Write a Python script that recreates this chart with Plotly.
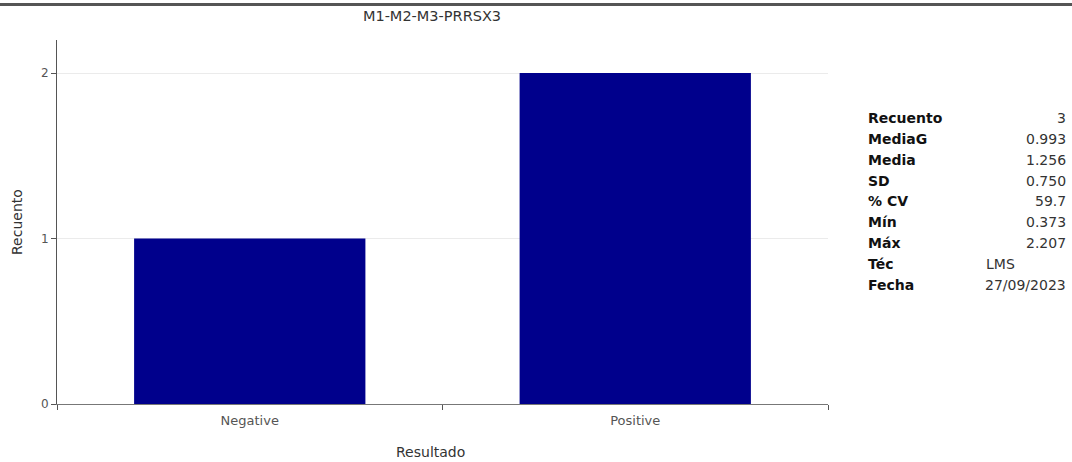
import plotly.graph_objects as go

title = "M1-M2-M3-PRRSX3"
x_title = "Resultado"
y_title = "Recuento"
categories = ["Negative", "Positive"]
counts = [1, 2]
y_ticks = [0, 1, 2]

stat_labels = ["Recuento", "MediaG", "Media", "SD", "% CV", "Mín", "Máx", "Téc", "Fecha"]
stat_values = ["3", "0.993", "1.256", "0.750", "59.7", "0.373", "2.207", "LMS", "27/09/2023"]

FONT = "DejaVu Sans"
W, H = 1072, 462
L, R, T, B = 57, 244, 40, 58
pw, ph = W - L - R, H - T - B

def px_x(x):
    return (x - L) / pw

def px_y(y):
    return (H - B - y) / ph

fig = go.Figure()
fig.add_trace(go.Bar(
    x=categories, y=counts, width=0.6,
    marker=dict(color="#00008C", line=dict(width=0)),
    hoverinfo="skip",
))

fig.update_layout(
    width=W, height=H,
    margin=dict(l=L, r=R, t=T, b=B),
    paper_bgcolor="white", plot_bgcolor="white",
    showlegend=False,
    font=dict(family=FONT, color="#444", size=12),
    title=dict(text=title, x=px_x(432), xref="paper", xanchor="center",
               y=1 - 16 / H, yanchor="middle", yref="container",
               font=dict(family=FONT, size=14.5, color="#333")),
)
fig.update_xaxes(
    type="category", range=[-0.5, 1.5], automargin=False,
    showline=True, linecolor="#777", linewidth=1,
    ticks="outside", ticklen=5, tickcolor="#555", tickson="boundaries",
    showgrid=False,
    ticklabelstandoff=4,
    tickfont=dict(family=FONT, size=13, color="#555"),
)
fig.update_yaxes(
    range=[0, 2.2], tickvals=y_ticks, automargin=False,
    showline=True, linecolor="#555", linewidth=1,
    ticks="outside", ticklen=5, tickcolor="#555",
    showgrid=True, gridcolor="#EBEBEB", gridwidth=1,
    zeroline=False,
    tickfont=dict(family=FONT, size=12, color="#555"),
)

# axis titles
fig.add_annotation(text=x_title, x=px_x(430), y=px_y(452), xref="paper", yref="paper",
                   xanchor="center", yanchor="middle", showarrow=False,
                   font=dict(family=FONT, size=14, color="#333"))
fig.add_annotation(text=y_title, x=px_x(17), y=px_y(222), xref="paper", yref="paper",
                   xanchor="center", yanchor="middle", showarrow=False, textangle=-90,
                   font=dict(family=FONT, size=14, color="#333"))

# top border line
fig.add_shape(type="line", xref="paper", yref="paper",
              x0=px_x(0), x1=px_x(W), y0=px_y(4.5), y1=px_y(4.5),
              line=dict(color="#555", width=3))

# stats table
row_y = [118, 139, 160, 181, 201, 222, 243, 264, 285]
for lab, val, yy in zip(stat_labels, stat_values, row_y):
    fig.add_annotation(text=f"<b>{lab}</b>", x=px_x(866), y=px_y(yy), xref="paper", yref="paper",
                       xanchor="left", yanchor="middle", showarrow=False,
                       font=dict(family=FONT, size=14, color="#111"))
    if lab == "Téc":
        fig.add_annotation(text=val, x=px_x(984), y=px_y(yy), xref="paper", yref="paper",
                           xanchor="left", yanchor="middle", showarrow=False,
                           font=dict(family=FONT, size=14, color="#333"))
    else:
        fig.add_annotation(text=val, x=px_x(1068), y=px_y(yy), xref="paper", yref="paper",
                           xanchor="right", yanchor="middle", showarrow=False,
                           font=dict(family=FONT, size=14, color="#333"))

fig.write_html("out.html", config={"displayModeBar": False},
               post_script="document.body.style.margin='0px';document.body.style.overflow='hidden';")
